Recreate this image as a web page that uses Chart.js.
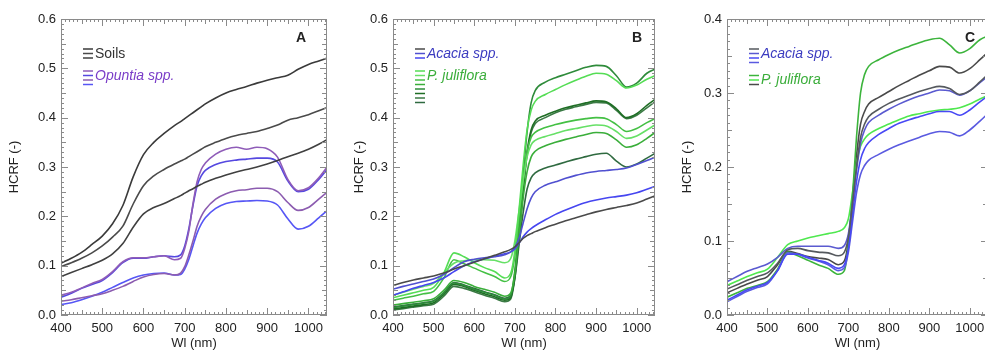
<!DOCTYPE html>
<html>
<head>
<meta charset="utf-8">
<script src="https://cdn.jsdelivr.net/npm/chart.js@4.4.1/dist/chart.umd.min.js"></script>
<style>
  html, body { margin: 0; padding: 0; background: #fff; overflow: hidden; width: 985px; height: 354px; }
  canvas { position: absolute; top: 0; }
</style>
</head>
<body>
<canvas id="chartA" width="332" height="354" style="left:0px"></canvas>
<canvas id="chartB" width="315" height="354" style="left:345px"></canvas>
<canvas id="chartC" width="323" height="354" style="left:673px"></canvas>
<script>
// wavelength grid (nm) shared by all spectra
const WL = [400, 425, 450, 475, 500, 525, 550, 575, 600, 625, 650, 675, 690, 700, 710, 720, 730, 740, 750, 775, 800, 825, 850, 875, 900, 925, 950, 975, 1000, 1025, 1050];
const X_TICKS = [400, 500, 600, 700, 800, 900, 1000];
const Y_TICKS_AB = [0, 0.1, 0.2, 0.3, 0.4, 0.5, 0.6];
const Y_TICKS_C = [0, 0.1, 0.2, 0.3, 0.4];

// ---- panel A : soils + Opuntia
const soilA1 = [.105, .115, .127, .143, .16, .185, .222, .28, .325, .35, .368, .384, .392, .398, .404, .41, .416, .422, .428, .44, .45, .457, .463, .47, .476, .481, .486, .498, .508, .515, .522];
const soilA2 = [.098, .106, .115, .126, .14, .158, .18, .225, .262, .282, .295, .306, .312, .316, .321, .326, .331, .336, .341, .35, .358, .364, .368, .372, .378, .385, .395, .4, .406, .414, .422];
const soilA3 = [.078, .086, .094, .102, .111, .124, .145, .178, .205, .218, .226, .236, .242, .247, .252, .256, .261, .265, .269, .277, .284, .29, .295, .3, .306, .313, .321, .328, .336, .346, .358];
const opuntA1 = [.04, .046, .055, .064, .072, .088, .108, .116, .116, .118, .12, .112, .115, .135, .17, .225, .27, .295, .308, .326, .336, .34, .336, .34, .337, .32, .275, .252, .258, .278, .305];
const opuntA2 = [.036, .044, .054, .062, .07, .086, .106, .115, .115, .118, .12, .118, .122, .14, .175, .222, .262, .282, .293, .305, .311, .314, .316, .318, .318, .31, .272, .25, .255, .275, .3];
const opuntA3 = [.028, .031, .035, .039, .043, .05, .058, .068, .077, .082, .084, .081, .085, .098, .122, .15, .18, .2, .214, .235, .246, .252, .254, .257, .257, .25, .228, .212, .218, .235, .252];
const opuntA4 = [.021, .025, .031, .038, .046, .056, .066, .075, .081, .084, .085, .081, .082, .093, .113, .14, .166, .184, .197, .216, .226, .23, .231, .232, .231, .223, .195, .174, .18, .197, .215];

// ---- panel B : Acacia + P. juliflora
const acacB1 = [.06, .066, .071, .075, .079, .085, .093, .1, .107, .114, .121, .128, .133, .138, .146, .155, .161, .165, .169, .177, .184, .191, .197, .203, .209, .214, .218, .222, .227, .235, .243];
const acacB2 = [.052, .058, .063, .068, .073, .082, .096, .108, .113, .116, .118, .122, .128, .137, .155, .185, .215, .237, .25, .263, .27, .277, .283, .288, .291, .293, .295, .298, .305, .313, .322];
const acacB3 = [.04, .047, .054, .06, .066, .075, .088, .1, .108, .114, .119, .124, .128, .134, .145, .158, .168, .175, .181, .193, .204, .213, .221, .228, .233, .237, .24, .243, .248, .255, .262];
const julifB1 = [.035, .04, .045, .05, .056, .085, .126, .118, .106, .096, .088, .075, .085, .13, .21, .3, .375, .415, .433, .447, .457, .467, .476, .484, .49, .488, .475, .46, .466, .478, .487];
const julifB2 = [.04, .046, .052, .058, .064, .085, .105, .11, .112, .112, .111, .106, .115, .15, .21, .27, .32, .345, .354, .362, .368, .374, .378, .382, .385, .383, .372, .358, .363, .375, .388];
const julifB3 = [.03, .034, .038, .043, .048, .075, .112, .104, .095, .086, .078, .068, .078, .12, .195, .27, .33, .36, .37, .38, .386, .391, .395, .398, .4, .398, .386, .372, .378, .39, .4];
const julifB4 = [.02, .023, .026, .029, .033, .05, .07, .066, .058, .052, .046, .038, .045, .085, .16, .235, .29, .32, .332, .343, .35, .356, .361, .366, .37, .368, .355, .34, .345, .358, .373];
const julifB5 = [.015, .018, .021, .024, .028, .045, .065, .06, .052, .046, .04, .032, .04, .09, .18, .28, .37, .43, .455, .472, .481, .488, .495, .502, .506, .504, .485, .462, .47, .49, .5];
const julifB6 = [.012, .015, .018, .021, .025, .042, .062, .058, .05, .043, .037, .03, .036, .08, .16, .25, .33, .375, .393, .405, .413, .42, .425, .43, .434, .432, .418, .4, .408, .425, .44];
const julifB7 = [.01, .013, .016, .019, .022, .038, .058, .054, .047, .04, .034, .027, .033, .075, .155, .245, .325, .37, .388, .4, .41, .417, .422, .427, .431, .43, .415, .398, .405, .42, .435];
const julifB8 = [.016, .019, .022, .025, .029, .045, .066, .061, .054, .047, .041, .034, .04, .075, .14, .205, .255, .278, .288, .298, .304, .31, .316, .321, .326, .328, .312, .3, .306, .318, .33];

// ---- panel C : Acacia + P. juliflora
const acacC1 = [.035, .041, .047, .052, .057, .07, .088, .09, .087, .085, .084, .08, .085, .105, .15, .2, .24, .258, .268, .278, .286, .292, .297, .302, .306, .309, .306, .298, .303, .315, .328];
const acacC2 = [.045, .052, .059, .064, .069, .078, .09, .093, .093, .093, .093, .09, .094, .11, .15, .195, .232, .25, .26, .27, .278, .285, .291, .296, .3, .304, .303, .297, .303, .314, .325];
const acacC3 = [.02, .027, .034, .039, .044, .06, .082, .082, .078, .074, .07, .063, .068, .09, .135, .18, .21, .225, .233, .244, .252, .259, .264, .268, .272, .275, .275, .27, .277, .288, .298];
const acacC4 = [.018, .025, .032, .037, .042, .06, .084, .082, .077, .073, .068, .06, .064, .085, .125, .165, .19, .202, .209, .217, .224, .23, .235, .24, .245, .248, .247, .242, .25, .262, .275];
const julifC1 = [.024, .03, .036, .04, .045, .062, .085, .08, .074, .068, .063, .055, .06, .095, .16, .24, .3, .325, .336, .345, .352, .358, .363, .368, .372, .374, .365, .354, .36, .372, .378];
const julifC2 = [.04, .046, .052, .057, .062, .078, .095, .1, .104, .107, .11, .113, .118, .13, .165, .205, .228, .238, .244, .252, .258, .264, .269, .272, .275, .277, .278, .28, .285, .292, .298];
const julifC3 = [.03, .036, .042, .047, .052, .068, .086, .083, .079, .077, .075, .068, .073, .1, .155, .215, .258, .275, .285, .294, .302, .31, .317, .324, .33, .336, .335, .327, .333, .345, .358];

Chart.defaults.font.family = "'Liberation Sans', Arial, sans-serif";
Chart.defaults.color = '#222';

function series(values, color, group) {
    return {
        data: WL.map((w, i) => ({x: w, y: values[i]})),
        group: group,
        borderColor: color,
        borderWidth: 1.6,
        pointRadius: 0,
        fill: false,
        cubicInterpolationMode: 'monotone',
    };
}

// box round the plot, inward ticks on all four sides, panel letter, legend
const framePlugin = {
    id: 'frame',
    afterDatasetsDraw(chart, args, opts) {
        const {ctx, chartArea: {left, right, top, bottom}, scales: {x, y}} = chart;
        ctx.save();
        ctx.strokeStyle = '#8a8a8a';
        ctx.lineWidth = 1;
        ctx.strokeRect(left + 0.5, top + 0.5, right - left - 1, bottom - top - 1);

        ctx.beginPath();
        for (let v = 400; v <= x.max; v += 10) {
            const px = Math.round(x.getPixelForValue(v)) + 0.5;
            const len = v % 100 === 0 ? 7 : (v % 50 === 0 ? 5 : 3);
            ctx.moveTo(px, bottom); ctx.lineTo(px, bottom - len);
            ctx.moveTo(px, top); ctx.lineTo(px, top + len);
        }
        const n = Math.round(y.max * 100);
        for (let i = 0; i <= n; i++) {
            const py = Math.round(y.getPixelForValue(i / 100)) + 0.5;
            const len = i % 10 === 0 ? 7 : (i % 5 === 0 ? 5 : 3);
            ctx.moveTo(left, py); ctx.lineTo(left + len, py);
            ctx.moveTo(right, py); ctx.lineTo(right - len, py);
        }
        ctx.stroke();

        // panel letter
        ctx.fillStyle = '#222';
        ctx.font = "bold 14px 'Liberation Sans', Arial, sans-serif";
        ctx.textAlign = 'center';
        ctx.textBaseline = 'middle';
        ctx.fillText(opts.letter, right - opts.letterDx, top + 19);

        // legend: a short line per spectrum, name beside the first one
        ctx.textAlign = 'left';
        let ly = top + 30;
        opts.groups.forEach((g) => {
            const first = ly;
            chart.data.datasets.filter(d => d.group === g.name).forEach((d) => {
                ctx.strokeStyle = d.borderColor;
                ctx.lineWidth = 1.5;
                ctx.beginPath();
                ctx.moveTo(left + 22, ly);
                ctx.lineTo(left + 32, ly);
                ctx.stroke();
                ly += 4.5;
            });
            ctx.fillStyle = g.color;
            ctx.font = (g.italic ? 'italic ' : '') + "14px 'Liberation Sans', Arial, sans-serif";
            ctx.fillText(g.name, left + 34, first + 5);
            ly += 8.5;
        });
        ctx.restore();
    }
};

function makePanel(id, datasets, opt) {
    return new Chart(document.getElementById(id).getContext('2d'), {
        type: 'line',
        data: {datasets: datasets},
        options: {
            responsive: false,
            animation: false,
            layout: {padding: {top: 19, right: opt.padRight, left: 0, bottom: 0}},
            scales: {
                x: {
                    type: 'linear',
                    min: 400,
                    max: 1045,
                    grid: {display: false, drawTicks: false},
                    border: {display: false},
                    afterBuildTicks: (s) => { s.ticks = X_TICKS.map(v => ({value: v})); },
                    afterFit: (s) => { s.height = 39; },
                    ticks: {padding: 6, color: '#222', font: {size: 13}, maxRotation: 0, callback: (v) => String(v)},
                    title: {display: true, text: 'Wl (nm)', color: '#222', font: {size: 13}, padding: {top: 0, bottom: 3}},
                },
                y: {
                    min: 0,
                    max: opt.yMax,
                    grid: {display: false, drawTicks: false},
                    border: {display: false},
                    afterBuildTicks: (s) => { s.ticks = opt.yTicks.map(v => ({value: v})); },
                    afterFit: (s) => { s.width = opt.yWidth; },
                    ticks: {padding: 5, color: '#222', font: {size: 13}, callback: (v) => Number(v).toFixed(1)},
                    title: {display: true, text: 'HCRF (-)', color: '#222', font: {size: 13}, padding: {top: 7, bottom: 0}},
                },
            },
            plugins: {
                legend: {display: false},
                tooltip: {enabled: false},
                frame: {letter: opt.letter, letterDx: opt.letterDx, groups: opt.groups},
            },
        },
        plugins: [framePlugin],
    });
}

makePanel('chartA', [
    series(soilA1, '#3a3a3a', 'Soils'),
    series(soilA2, '#4a4a4a', 'Soils'),
    series(soilA3, '#404040', 'Soils'),
    series(opuntA1, '#8f5cb8', 'Opuntia spp.'),
    series(opuntA2, '#5548e0', 'Opuntia spp.'),
    series(opuntA3, '#8c5cb0', 'Opuntia spp.'),
    series(opuntA4, '#5656f5', 'Opuntia spp.'),
], {
    yMax: 0.6, yTicks: Y_TICKS_AB, yWidth: 61, padRight: 5, letter: 'A', letterDx: 26,
    groups: [{name: 'Soils', color: '#333', italic: false}, {name: 'Opuntia spp.', color: '#7a3dc8', italic: true}],
});

makePanel('chartB', [
    series(acacB1, '#4a4a4a', 'Acacia spp.'),
    series(acacB2, '#5050d0', 'Acacia spp.'),
    series(acacB3, '#4646f0', 'Acacia spp.'),
    series(julifB1, '#55dd55', 'P. juliflora'),
    series(julifB2, '#66e066', 'P. juliflora'),
    series(julifB3, '#44c044', 'P. juliflora'),
    series(julifB4, '#3aae3a', 'P. juliflora'),
    series(julifB5, '#2e8b3a', 'P. juliflora'),
    series(julifB6, '#1f6e25', 'P. juliflora'),
    series(julifB7, '#3b7a45', 'P. juliflora'),
    series(julifB8, '#2f6a40', 'P. juliflora'),
], {
    yMax: 0.6, yTicks: Y_TICKS_AB, yWidth: 48, padRight: 5, letter: 'B', letterDx: 18,
    groups: [{name: 'Acacia spp.', color: '#3b3bc0', italic: true}, {name: 'P. juliflora', color: '#3aad3a', italic: true}],
});

makePanel('chartC', [
    series(acacC1, '#55595e', 'Acacia spp.'),
    series(acacC2, '#5a5ad0', 'Acacia spp.'),
    series(acacC3, '#4848f5', 'Acacia spp.'),
    series(acacC4, '#5a5ae0', 'Acacia spp.'),
    series(julifC1, '#3cb43c', 'P. juliflora'),
    series(julifC2, '#4fe84f', 'P. juliflora'),
    series(julifC3, '#4a4a4a', 'P. juliflora'),
], {
    yMax: 0.4, yTicks: Y_TICKS_C, yWidth: 54, padRight: 8, letter: 'C', letterDx: 18,
    groups: [{name: 'Acacia spp.', color: '#3b3bc0', italic: true}, {name: 'P. juliflora', color: '#3aad3a', italic: true}],
});
</script>
</body>
</html>
